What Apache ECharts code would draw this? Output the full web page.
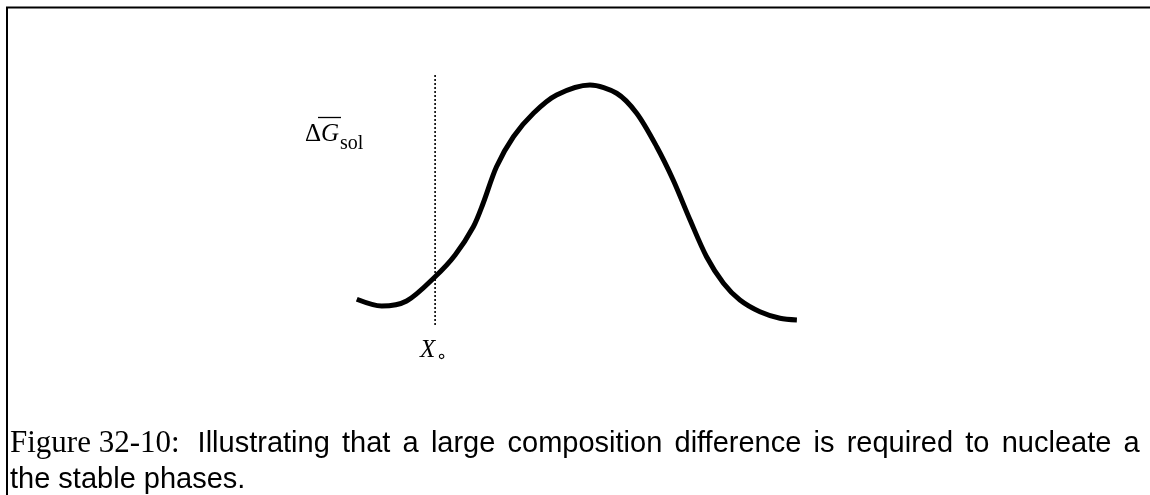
<!DOCTYPE html>
<html>
<head>
<meta charset="utf-8">
<script src="https://cdn.jsdelivr.net/npm/echarts@6/dist/echarts.min.js"></script>
<style>
  html, body { margin: 0; padding: 0; background: #fff; }
  #main { width: 1150px; height: 495px; }
</style>
</head>
<body>
<div id="main"></div>
<script>
// composition (0..1) and free energy of solution
var curveX = [0.004, 0.060, 0.116, 0.180, 0.225, 0.266, 0.288, 0.318, 0.356, 0.401, 0.453, 0.528,
  0.588, 0.633, 0.678, 0.715, 0.753, 0.790, 0.828, 0.865, 0.910, 0.955, 0.993];
var curveY = [0.123, 0.096, 0.116, 0.213, 0.300, 0.413, 0.507, 0.653, 0.773, 0.867, 0.940, 0.980,
  0.947, 0.867, 0.733, 0.600, 0.440, 0.293, 0.187, 0.120, 0.073, 0.047, 0.040];
// dotted marker at X0
var markerX = 0.18;
var markerY = [0.02, 1.028];
// caption text
var captionHead = 'Figure 32-10:';
var captionWords = ['Illustrating', 'that', 'a', 'large', 'composition', 'difference', 'is',
  'required', 'to', 'nucleate', 'a'];
var captionLine2 = 'the stable phases.';

var chart = echarts.init(document.getElementById('main'));

var curveData = [];
for (var i = 0; i < curveX.length; i++) {
  curveData.push([curveX[i], curveY[i]]);
}

// first caption line, spaces widened (justified line)
var line1 = '{f|' + captionHead + '}{c| }' + captionWords.map(function (w) {
  return '{t|' + w + '}';
}).join('{s| }');

var option = {
  backgroundColor: '#fff',
  animation: false,
  grid: { left: 355, right: 350, top: 55, bottom: 165 },
  xAxis: { type: 'value', min: 0, max: 1, show: false },
  yAxis: { type: 'value', min: 0, max: 1.1, show: false },
  series: [
    {
      type: 'line',
      data: curveData,
      smooth: 0.3,
      symbol: 'none',
      silent: true,
      clip: false,
      lineStyle: { color: '#000', width: 5 }
    },
    {
      type: 'line',
      data: [[markerX, markerY[0]], [markerX, markerY[1]]],
      symbol: 'none',
      silent: true,
      clip: false,
      lineStyle: { color: '#000', width: 1.6, type: [2, 2] }
    }
  ],
  graphic: [
    // frame: top and left rules
    {
      type: 'polyline',
      shape: { points: [[7, 495], [7, 7.5], [1150, 7.5]] },
      style: { stroke: '#000', lineWidth: 2, fill: null }
    },
    {
      type: 'text',
      x: 305, y: 134.5,
      style: {
        text: '{d|Δ}{g|G}',
        verticalAlign: 'middle',
        fill: '#000',
        rich: {
          d: { fontFamily: 'Liberation Serif', fontSize: 25, fill: '#000' },
          g: { fontFamily: 'Liberation Serif', fontSize: 25, fontStyle: 'italic', fill: '#000' }
        }
      }
    },
    {
      type: 'line',
      shape: { x1: 318, y1: 117.5, x2: 341, y2: 117.5 },
      style: { stroke: '#000', lineWidth: 1.3 }
    },
    {
      type: 'text',
      x: 340, y: 143.5,
      style: {
        text: 'sol',
        verticalAlign: 'middle',
        fill: '#000',
        font: '20px "Liberation Serif"'
      }
    },
    {
      type: 'text',
      x: 420, y: 350,
      style: {
        text: 'X',
        verticalAlign: 'middle',
        fill: '#000',
        font: 'italic 25px "Liberation Serif"'
      }
    },
    {
      type: 'text',
      x: 436, y: 357,
      style: {
        text: '∘',
        verticalAlign: 'middle',
        fill: '#000',
        font: '18px "DejaVu Sans"'
      }
    },
    {
      type: 'text',
      x: 10, y: 444,
      style: {
        text: line1,
        verticalAlign: 'middle',
        fill: '#000',
        rich: {
          f: { fontFamily: 'Liberation Serif', fontSize: 31, fill: '#000' },
          t: { fontFamily: 'Liberation Sans', fontSize: 29, fill: '#000' },
          c: { fontFamily: 'Liberation Sans', fontSize: 29, width: 18 },
          s: { fontFamily: 'Liberation Sans', fontSize: 29, width: 12.2 }
        }
      }
    },
    {
      type: 'text',
      x: 10, y: 480,
      style: {
        text: captionLine2,
        verticalAlign: 'middle',
        fill: '#000',
        font: '29px "Liberation Sans"'
      }
    }
  ]
};

chart.setOption(option);
</script>
</body>
</html>
